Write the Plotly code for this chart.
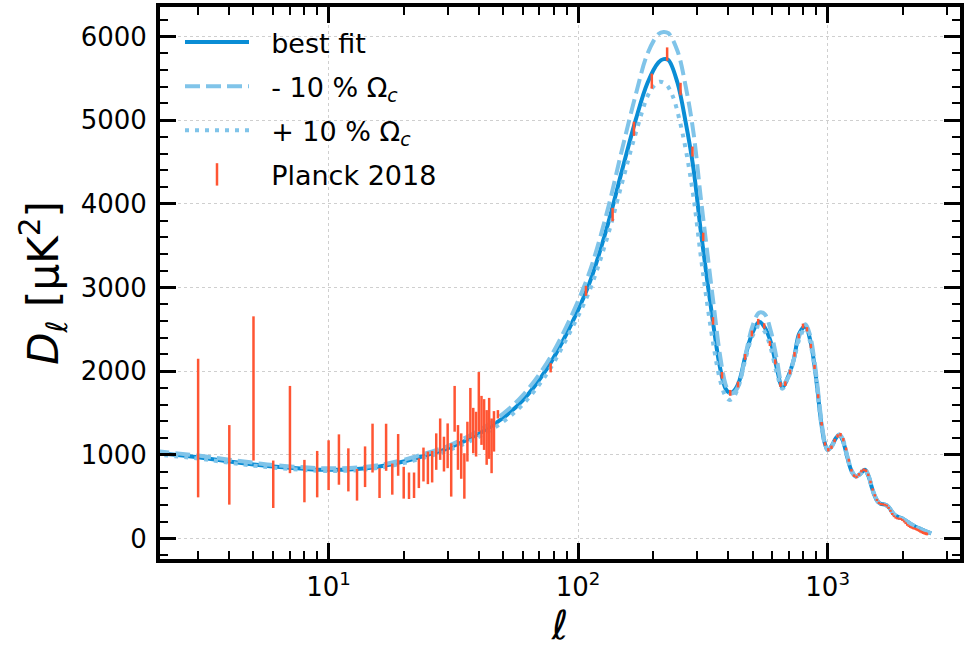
import plotly.graph_objects as go

# ---------------- data ----------------
ell_fit = [2,3,4,5,6,8,10,13,16,20,25,30,40,50,60,75,90,110,130,150,170,190,210,220,230,250,270,290,310,330,
           350,370,390,405,420,440,470,500,532,560,592,625,659,700,733,770,815,850,882,910,938,970,1000,1040,
           1080,1113,1150,1202,1250,1298,1350,1410,1460,1500,1537,1580,1634,1700,1760,1847,1920,1993,2070,2151,
           2250,2359,2450,2600]
dl_fit = [1025,970,920,885,860,832,820,830,860,920,1000,1075,1250,1440,1650,2030,2450,3020,3700,4400,
          5000,5450,5690,5730,5720,5450,4970,4420,3680,3060,2510,2050,1790,1740,1760,1860,2200,2460,2590,2520,
          2346,2040,1811,1960,2148,2450,2536,2380,2108,1780,1434,1160,1058,1110,1200,1237,1170,958,800,741,
          770,820,740,620,523,450,411,404,370,285,255,238,205,174,140,114,90,60]

ell_minus = ell_fit
dl_minus = [1045,990,940,905,878,850,838,848,878,940,1025,1105,1290,1490,1710,2100,2540,3150,3880,4650,
            5300,5800,6030,6055,6040,5830,5400,4850,4080,3400,2770,2200,1840,1740,1740,1830,2210,2540,2700,2680,
            2480,2150,1850,1940,2150,2420,2560,2430,2160,1830,1480,1180,1060,1100,1200,1245,1190,975,810,745,
            770,825,750,630,530,455,415,408,375,290,258,240,207,176,142,115,91,61]

ell_plus = [2,3,4,5,6,8,10,13,16,20,25,30,40,50,60,75,90,110,130,150,170,190,200,212,225,240,255,270,290,310,
            330,350,370,390,405,420,440,470,500,532,560,592,625,659,700,733,770,815,850,882,910,938,970,1000,
            1040,1080,1113,1150,1202,1250,1298,1350,1410,1460,1500,1537,1580,1634,1700,1760,1847,1920,1993,2070,
            2151,2250,2359,2450,2600]
dl_plus = [1005,955,905,870,846,818,806,815,845,900,978,1050,1215,1395,1600,1970,2390,2930,3570,4250,
           4840,5290,5400,5460,5430,5280,5000,4650,4080,3380,2780,2280,1900,1700,1656,1690,1820,2160,2420,2540,
           2470,2270,1980,1790,1960,2140,2380,2520,2350,2080,1750,1410,1150,1055,1110,1195,1230,1160,950,795,
           738,768,815,735,615,520,448,410,402,368,283,253,236,204,173,139,113,89,59]

# Planck 2018 low-ell (unbinned) error bars: lower and upper ends
ell_low = list(range(3, 47))
planck_low_hi = [2148,1355,2655,931,1823,939,1046,1173,1244,1077,830,1100,1372,840,1371,895,1248,856,788,788,
                 958,1086,1038,1046,1256,1434,1216,1375,1137,1823,1355,1256,1018,1395,1799,1561,1514,1989,1704,1665,
                 1534,1680,1434,1522]
planck_low_lo = [491,404,931,364,780,432,491,578,642,562,452,614,788,483,808,523,749,476,471,483,
                 602,681,649,669,820,939,800,840,500,1276,820,713,475,919,1196,1018,979,1276,1118,1058,
                 880,951,780,1038]

# Planck 2018 binned high-ell
ell_bin = [47.7,77.6,107.5,137.5,167.4,197.4,227.4,257.3,287.3,317.2,347.2,377.2,407.1,437.1,467.0,497.0,526.9,
           556.9,586.8,616.8,646.8,676.7,706.7,736.6,766.6,796.5,826.5,856.5,886.4,916.4,946.3,976.3,1006.2,
           1036.2,1066.2,1096.1,1126.1,1156.0,1186.0,1215.9,1245.9,1275.9,1305.8,1335.8,1365.7,1395.7,1425.6,
           1455.6,1485.6,1515.5,1545.5,1575.4,1605.4,1635.3,1665.3,1695.3,1725.2,1755.2,1785.1,1815.1,1845.0,
           1875.0,1905.0,1934.9,1964.9,1994.8,2024.8,2054.7,2084.7,2114.7,2144.6,2174.6,2204.5,2234.5,2264.4,
           2294.4,2324.4,2354.3,2384.3,2414.2,2444.2,2474.1,2499.0]
dl_bin = [1484,2040,2960,3872,4897,5467,5790,5372,4625,3605,2600,1950,1740,1840,2170,2450,2590,2540,2330,2110,
          1840,1850,1990,2200,2420,2540,2500,2300,2050,1700,1370,1130,1060,1090,1170,1225,1240,1180,1070,935,
          815,750,735,765,805,820,810,760,675,585,515,460,425,410,408,402,392,365,330,292,
          265,247,238,236,232,220,202,182,162,147,137,128,121,116,110,101,92,83,75,68,
          62,57,53]
err_bin = [50,55,60,80,85,90,80,75,60,50,45,40,35,35,35,35,35,32,30,30,28,28,28,28,28,28,26,26,25,24,
           22,20,20,20,20,20,20,20,18,18,16,16,16,16,16,16,16,15,15,14,14,13,13,13,12,12,12,12,12,12,
           11,11,11,11,11,11,11,11,11,11,12,12,12,12,13,13,13,14,14,15,15,16,16]

x_tickvals = [10, 100, 1000]
x_ticktext = ["10<sup>1</sup>", "10<sup>2</sup>", "10<sup>3</sup>"]
y_tickvals = [0, 1000, 2000, 3000, 4000, 5000, 6000]

# ---------------- style ----------------
C_FIT = "#0a8dd5"
C_LIGHT = "#80c4e9"
C_RED = "#ff5533"
FONT = "DejaVu Sans"
PAD = "\u00a0\u00a0"

fig = go.Figure()
fig.add_trace(go.Scatter(x=ell_fit, y=dl_fit, mode="lines", name=PAD + "best fit",
                         line=dict(color=C_FIT, width=4, shape="spline"), legendgroup="a"))
fig.add_trace(go.Scatter(x=ell_minus, y=dl_minus, mode="lines", name=PAD + "- 10 % Ω<sub><i>c</i></sub>",
                         line=dict(color=C_LIGHT, width=4, dash="15px,6px", shape="spline"), legendgroup="b"))
fig.add_trace(go.Scatter(x=ell_plus, y=dl_plus, mode="lines", name=PAD + "+ 10 % Ω<sub><i>c</i></sub>",
                         line=dict(color=C_LIGHT, width=4, dash="4px,6px", shape="spline"), legendgroup="c"))

low_mid = [(h + l) / 2 for h, l in zip(planck_low_hi, planck_low_lo)]
low_err = [(h - l) / 2 for h, l in zip(planck_low_hi, planck_low_lo)]
fig.add_trace(go.Scatter(x=ell_low, y=low_mid, mode="markers", showlegend=False,
                         marker=dict(size=1, color=C_RED, opacity=0),
                         error_y=dict(type="data", array=low_err, visible=True, color=C_RED,
                                      thickness=2.5, width=0)))
fig.add_trace(go.Scatter(x=ell_bin, y=dl_bin, mode="markers", showlegend=False,
                         marker=dict(size=1, color=C_RED, opacity=0),
                         error_y=dict(type="data", array=err_bin, visible=True, color=C_RED,
                                      thickness=2.5, width=0)))
# legend entry for the data
fig.add_trace(go.Scatter(x=[None], y=[None], mode="markers", name=PAD + "Planck 2018", legendgroup="d",
                         marker=dict(symbol="line-ns", size=30, color=C_RED,
                                     line=dict(color=C_RED, width=2.5))))

axis_common = dict(showline=True, linewidth=4, linecolor="black", mirror="allticks",
                   ticks="inside", tickwidth=3, ticklen=16, tickcolor="black",
                   showgrid=True, gridcolor="#cfcfcf", gridwidth=1, griddash="dot",
                   zeroline=False, tickfont=dict(family=FONT, size=26, color="black"), layer="above traces")

fig.update_xaxes(type="log", range=[0.3243, 3.5305], tickmode="array", tickvals=x_tickvals, ticktext=x_ticktext,
                 minor=dict(dtick="D1", ticks="inside", ticklen=8, tickwidth=2,
                            tickcolor="black", showgrid=False),
                 title=dict(text="<i>ℓ</i>", font=dict(family=FONT, size=40, color="black"), standoff=4),
                 ticklabelstandoff=2, **axis_common)
fig.update_yaxes(range=[-246, 6353], tickmode="array", tickvals=y_tickvals,
                 minor=dict(tickmode="linear", dtick=200, tick0=0, ticks="inside", ticklen=8, tickwidth=2,
                            tickcolor="black", showgrid=False),
                 title=dict(text="<i>D</i><sub><i>ℓ</i></sub> [μK<sup>2</sup>]",
                            font=dict(family=FONT, size=42, color="black"), standoff=10),
                 ticklabelstandoff=4, **axis_common)

fig.update_layout(
    width=967, height=650,
    margin=dict(l=160, r=4, t=3, b=91),
    paper_bgcolor="white", plot_bgcolor="white",
    font=dict(family=FONT, color="black"),
    showlegend=True,
    legend=dict(x=0.025, y=0.98, xanchor="left", yanchor="top", bgcolor="rgba(0,0,0,0)",
                font=dict(family=FONT, size=27, color="black"), itemwidth=64,
                tracegroupgap=6, traceorder="grouped"),
)

fig.write_html("out.html")
